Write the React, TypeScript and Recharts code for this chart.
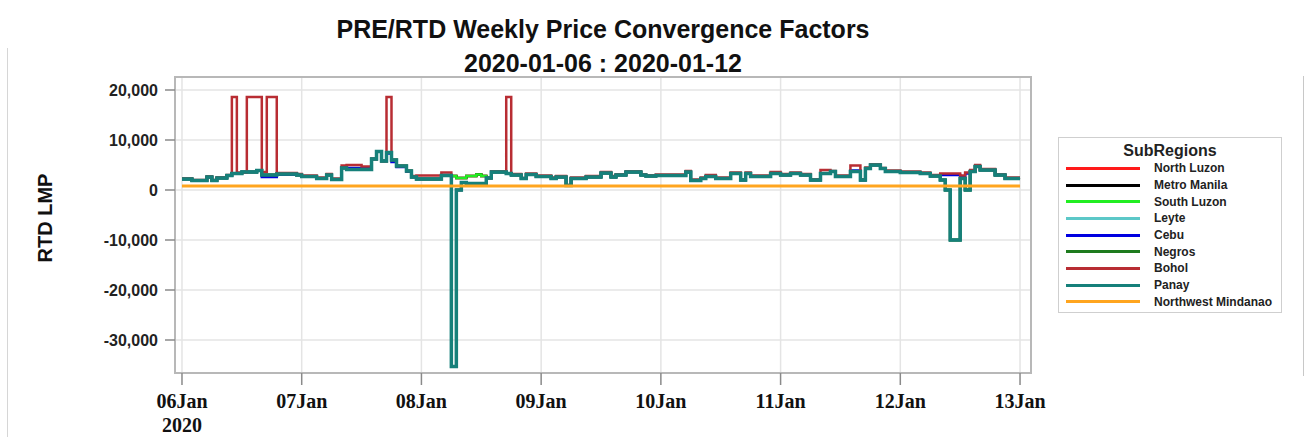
import React from 'react';
import { LineChart, Line, XAxis, YAxis, CartesianGrid, ReferenceArea } from 'recharts';

// hours since 2020-01-06 00:00, RTD LMP value (step changes only)
const dayTicks = [0, 24, 48, 72, 96, 120, 144, 168];
const dayLabels = ['06Jan', '07Jan', '08Jan', '09Jan', '10Jan', '11Jan', '12Jan', '13Jan'];
const lmpTicks = [-30000, -20000, -10000, 0, 10000, 20000];

const panay = [
    [0, 2200], [2, 1900], [5, 2600], [6, 1900], [7, 2400], [9, 2900], [10, 3300], [12, 3600], [15, 3900],
    [16, 3000], [19, 3200], [23, 3000], [24, 2700], [27, 2300], [29, 3000], [30, 2100], [32, 4400], [33, 4100],
    [38, 6200], [39, 7700], [40, 5800], [41, 7500], [42, 6000], [43, 4800], [45, 3800], [46, 2600], [47, 2200],
    [52, 2900], [54, -35300], [55, 0], [56, 1500], [57, 1300], [61, 2400], [62, 3600], [65, 3300], [66, 3000],
    [68, 2300], [69, 3100], [71, 2700], [74, 2300], [75, 2600], [77, 900], [78, 2300], [81, 2600], [84, 3400],
    [86, 2600], [87, 3000], [89, 3600], [92, 3000], [93, 2800], [95, 2900], [101, 3600], [102, 1900], [104, 2300],
    [105, 2700], [107, 2300], [110, 3300], [112, 2000], [113, 3300], [114, 2700], [118, 3300], [120, 3000],
    [122, 3300], [124, 3000], [126, 2000], [128, 3300], [130, 3700], [131, 2700], [134, 3700], [136, 2000],
    [137, 4300], [138, 5000], [140, 4300], [141, 3700], [144, 3500], [148, 3300], [150, 2800], [152, 2000],
    [153, 0], [154, -10000], [156, 2300], [157, 0], [158, 3700], [159, 4700], [160, 4000], [163, 3000],
    [165, 2300], [168, 2300],
];

const bohol = [
    [0, 2300], [2, 2000], [5, 2700], [6, 2000], [7, 2500], [9, 3000], [10, 18600], [11, 3500], [13, 18600],
    [16, 3600], [17, 18600], [19, 3400], [23, 3200], [24, 2900], [27, 2500], [29, 3200], [30, 2300], [32, 4900],
    [33, 5000], [36, 4700], [38, 6200], [39, 7700], [40, 5800], [41, 18600], [42, 6000], [43, 4800], [45, 3800],
    [46, 2800], [47, 2900], [52, 3500], [54, -35300], [55, 0], [56, 1500], [57, 1300], [61, 2400], [62, 3700],
    [65, 18600], [66, 3200], [68, 2400], [69, 3300], [71, 2900], [74, 2500], [75, 2800], [77, 1000], [78, 2500],
    [81, 2800], [84, 3600], [86, 2800], [87, 3100], [89, 3700], [92, 3100], [93, 2900], [95, 3100], [101, 3800],
    [102, 2100], [104, 2500], [105, 3000], [107, 2500], [110, 3500], [112, 2100], [113, 3500], [114, 2900],
    [118, 3600], [120, 3200], [122, 3500], [124, 3200], [126, 2100], [128, 4000], [130, 3800], [131, 2900],
    [134, 4900], [136, 2100], [137, 4500], [138, 5100], [140, 4400], [141, 3900], [144, 3700], [148, 3500],
    [150, 3000], [152, 3300], [156, 2900], [157, 3500], [158, 4000], [159, 5000], [160, 4200], [163, 3100],
    [165, 2500], [168, 2500],
];

const cebu = [
    [0, 2200], [2, 1900], [5, 2600], [6, 1900], [7, 2400], [9, 2900], [10, 3300], [12, 3600], [15, 3900],
    [16, 2600], [19, 3100], [23, 3000], [24, 2700], [27, 2300], [29, 3000], [30, 2100], [32, 4500], [33, 4400],
    [38, 6200], [39, 7700], [40, 5800], [41, 7300], [42, 5600], [43, 4600], [45, 3700], [46, 2600], [47, 2200],
    [52, 3000], [54, -35300], [55, 0], [56, 1500], [57, 1300], [61, 2400], [62, 3600], [65, 3300], [66, 3000],
    [68, 2300], [69, 3100], [71, 2700], [74, 2300], [75, 2600], [77, 900], [78, 2300], [81, 2600], [84, 3400],
    [86, 2600], [87, 3000], [89, 3600], [92, 3000], [93, 2800], [95, 2900], [101, 3600], [102, 1900], [104, 2300],
    [105, 2700], [107, 2300], [110, 3300], [112, 2000], [113, 3300], [114, 2700], [118, 3300], [120, 3000],
    [122, 3300], [124, 3000], [126, 2000], [128, 3300], [130, 3700], [131, 2700], [134, 3900], [136, 2000],
    [137, 4300], [138, 5000], [140, 4300], [141, 3700], [144, 3500], [148, 3300], [150, 2800], [152, 3000],
    [156, 2600], [157, 3300], [158, 3700], [159, 4700], [160, 4000], [163, 3000], [165, 2300], [168, 2300],
];

const southLuzon = [
    [0, 2200], [2, 1900], [5, 2600], [6, 1900], [7, 2400], [9, 2900], [10, 3300], [12, 3600], [15, 3900],
    [16, 3000], [19, 3200], [23, 3000], [24, 2700], [27, 2300], [29, 3000], [30, 2100], [32, 4400], [33, 4100],
    [38, 6200], [39, 7700], [40, 5800], [41, 7500], [42, 6000], [43, 4800], [45, 3800], [46, 2600], [47, 2200],
    [52, 2900], [54, 2800], [55, 2400], [57, 2800], [59, 3100], [60, 2800], [61, 2400], [62, 3600], [65, 3300],
    [66, 3000], [68, 2300], [69, 3100], [71, 2700], [74, 2300], [75, 2600], [77, 900], [78, 2300], [81, 2600],
    [84, 3400], [86, 2600], [87, 3000], [89, 3600], [92, 3000], [93, 2800], [95, 2900], [101, 3600], [102, 1900],
    [104, 2300], [105, 2700], [107, 2300], [110, 3300], [112, 2000], [113, 3300], [114, 2700], [118, 3300],
    [120, 3000], [122, 3300], [124, 3000], [126, 2000], [128, 3300], [130, 3700], [131, 2700], [134, 3700],
    [136, 2000], [137, 4300], [138, 5000], [140, 4300], [141, 3700], [144, 3500], [148, 3300], [150, 2800],
    [152, 2000], [153, 0], [154, -10000], [156, 2300], [157, 0], [158, 3700], [159, 4700], [160, 4000],
    [163, 3000], [165, 2300], [168, 2300],
];

const nwMindanao = [[0, 800], [168, 800]];

// these sit under South Luzon / Panay in the picture, read as the same values
const northLuzon = southLuzon;
const metroManila = southLuzon;
const leyte = panay;
const negros = panay;

const regions = [
    { name: 'North Luzon', values: northLuzon, color: '#ff1a1a', width: 2.5 },
    { name: 'Metro Manila', values: metroManila, color: '#000000', width: 2.5 },
    { name: 'South Luzon', values: southLuzon, color: '#22ee22', width: 2.5 },
    { name: 'Leyte', values: leyte, color: '#5cc8c8', width: 2.5 },
    { name: 'Cebu', values: cebu, color: '#0000e0', width: 2.5 },
    { name: 'Negros', values: negros, color: '#1e7b1e', width: 2.5 },
    { name: 'Bohol', values: bohol, color: '#b82d33', width: 2.5 },
    { name: 'Panay', values: panay, color: '#16807a', width: 3.5 },
    { name: 'Northwest Mindanao', values: nwMindanao, color: '#ffa51f', width: 3 },
];

const toPoints = (s: number[][]) => s.map(([t, v]) => ({ t, v }));

const sans = '"Liberation Sans", Arial, sans-serif';
const serif = '"Liberation Serif", "Times New Roman", serif';

const DayTick = (props: any) => {
    const { x, y, index } = props;
    return (
        <g transform={`translate(${x},${y})`}>
            <text textAnchor="middle" fontFamily={serif} fontWeight="bold" fontSize={20} fill="#111">
                <tspan x={0} y={21}>{dayLabels[index]}</tspan>
                {index === 0 && <tspan x={0} y={45}>2020</tspan>}
            </text>
        </g>
    );
};

const Legend = () => (
    <div
        style={{
            position: 'absolute',
            left: 1058,
            top: 137,
            width: 222,
            height: 174,
            border: '1px solid #cfcfcf',
            fontFamily: sans,
            color: '#222',
        }}
    >
        <div style={{ textAlign: 'center', fontWeight: 'bold', fontSize: 16, marginTop: 3, lineHeight: '19px' }}>
            SubRegions
        </div>
        {regions.map((r) => (
            <div key={r.name} style={{ display: 'flex', alignItems: 'center', height: 16.7 }}>
                <div style={{ marginLeft: 7, width: 74, height: 3, background: r.color }} />
                <div style={{ marginLeft: 14, fontSize: 12, fontWeight: 'bold', whiteSpace: 'nowrap' }}>{r.name}</div>
            </div>
        ))}
    </div>
);

const App = () => {
    return (
        <div style={{ position: 'absolute', left: 0, top: 0, width: 1305, height: 437, background: '#fff', overflow: 'hidden' }}>
            <div style={{ position: 'absolute', left: 7, top: 48, width: 1, height: 389, background: '#d6d6d6' }} />
            <div style={{ position: 'absolute', left: 1303, top: 76, width: 1, height: 300, background: '#c8c8c8' }} />
            <div
                style={{
                    position: 'absolute',
                    left: 0,
                    top: 12,
                    width: 1206,
                    textAlign: 'center',
                    fontFamily: sans,
                    fontWeight: 'bold',
                    fontSize: 25,
                    lineHeight: '34px',
                    color: '#111',
                }}
            >
                <div>PRE/RTD Weekly Price Convergence Factors</div>
                <div>2020-01-06 : 2020-01-12</div>
            </div>
            <div
                style={{
                    position: 'absolute',
                    left: 45,
                    top: 218,
                    transform: 'translate(-50%, -50%) rotate(-90deg)',
                    fontFamily: sans,
                    fontWeight: 'bold',
                    fontSize: 20,
                    whiteSpace: 'nowrap',
                    color: '#111',
                }}
            >
                RTD LMP
            </div>
            <LineChart width={1305} height={437} margin={{ top: 77, right: 274, bottom: 0, left: 75 }}>
                <CartesianGrid stroke="#e4e4e4" strokeWidth={1.5} />
                <XAxis
                    dataKey="t"
                    type="number"
                    domain={[-1.4, 170.2]}
                    ticks={dayTicks}
                    allowDataOverflow
                    height={64}
                    axisLine={false}
                    tickSize={12}
                    tickLine={{ stroke: '#8a8a8a', strokeWidth: 1.5 }}
                    tick={<DayTick />}
                    interval={0}
                />
                <YAxis
                    type="number"
                    domain={[-36600, 22600]}
                    ticks={lmpTicks}
                    allowDataOverflow
                    width={100}
                    axisLine={false}
                    tickSize={10}
                    tickMargin={7}
                    tickLine={{ stroke: '#8a8a8a', strokeWidth: 1.5 }}
                    tickFormatter={(v: number) => v.toLocaleString('en-US')}
                    tick={{ fontFamily: sans, fontWeight: 'bold', fontSize: 16, fill: '#222' }}
                    interval={0}
                />
                <ReferenceArea
                    x1={-1.4}
                    x2={170.2}
                    y1={-36600}
                    y2={22600}
                    fill="none"
                    stroke="#b8b8b8"
                    strokeWidth={2}
                />
                {regions.map((r) => (
                    <Line
                        key={r.name}
                        name={r.name}
                        data={toPoints(r.values)}
                        dataKey="v"
                        type="stepAfter"
                        stroke={r.color}
                        strokeWidth={r.width}
                        dot={false}
                        activeDot={false}
                        isAnimationActive={false}
                    />
                ))}
            </LineChart>
            <Legend />
        </div>
    );
};

export default App;
